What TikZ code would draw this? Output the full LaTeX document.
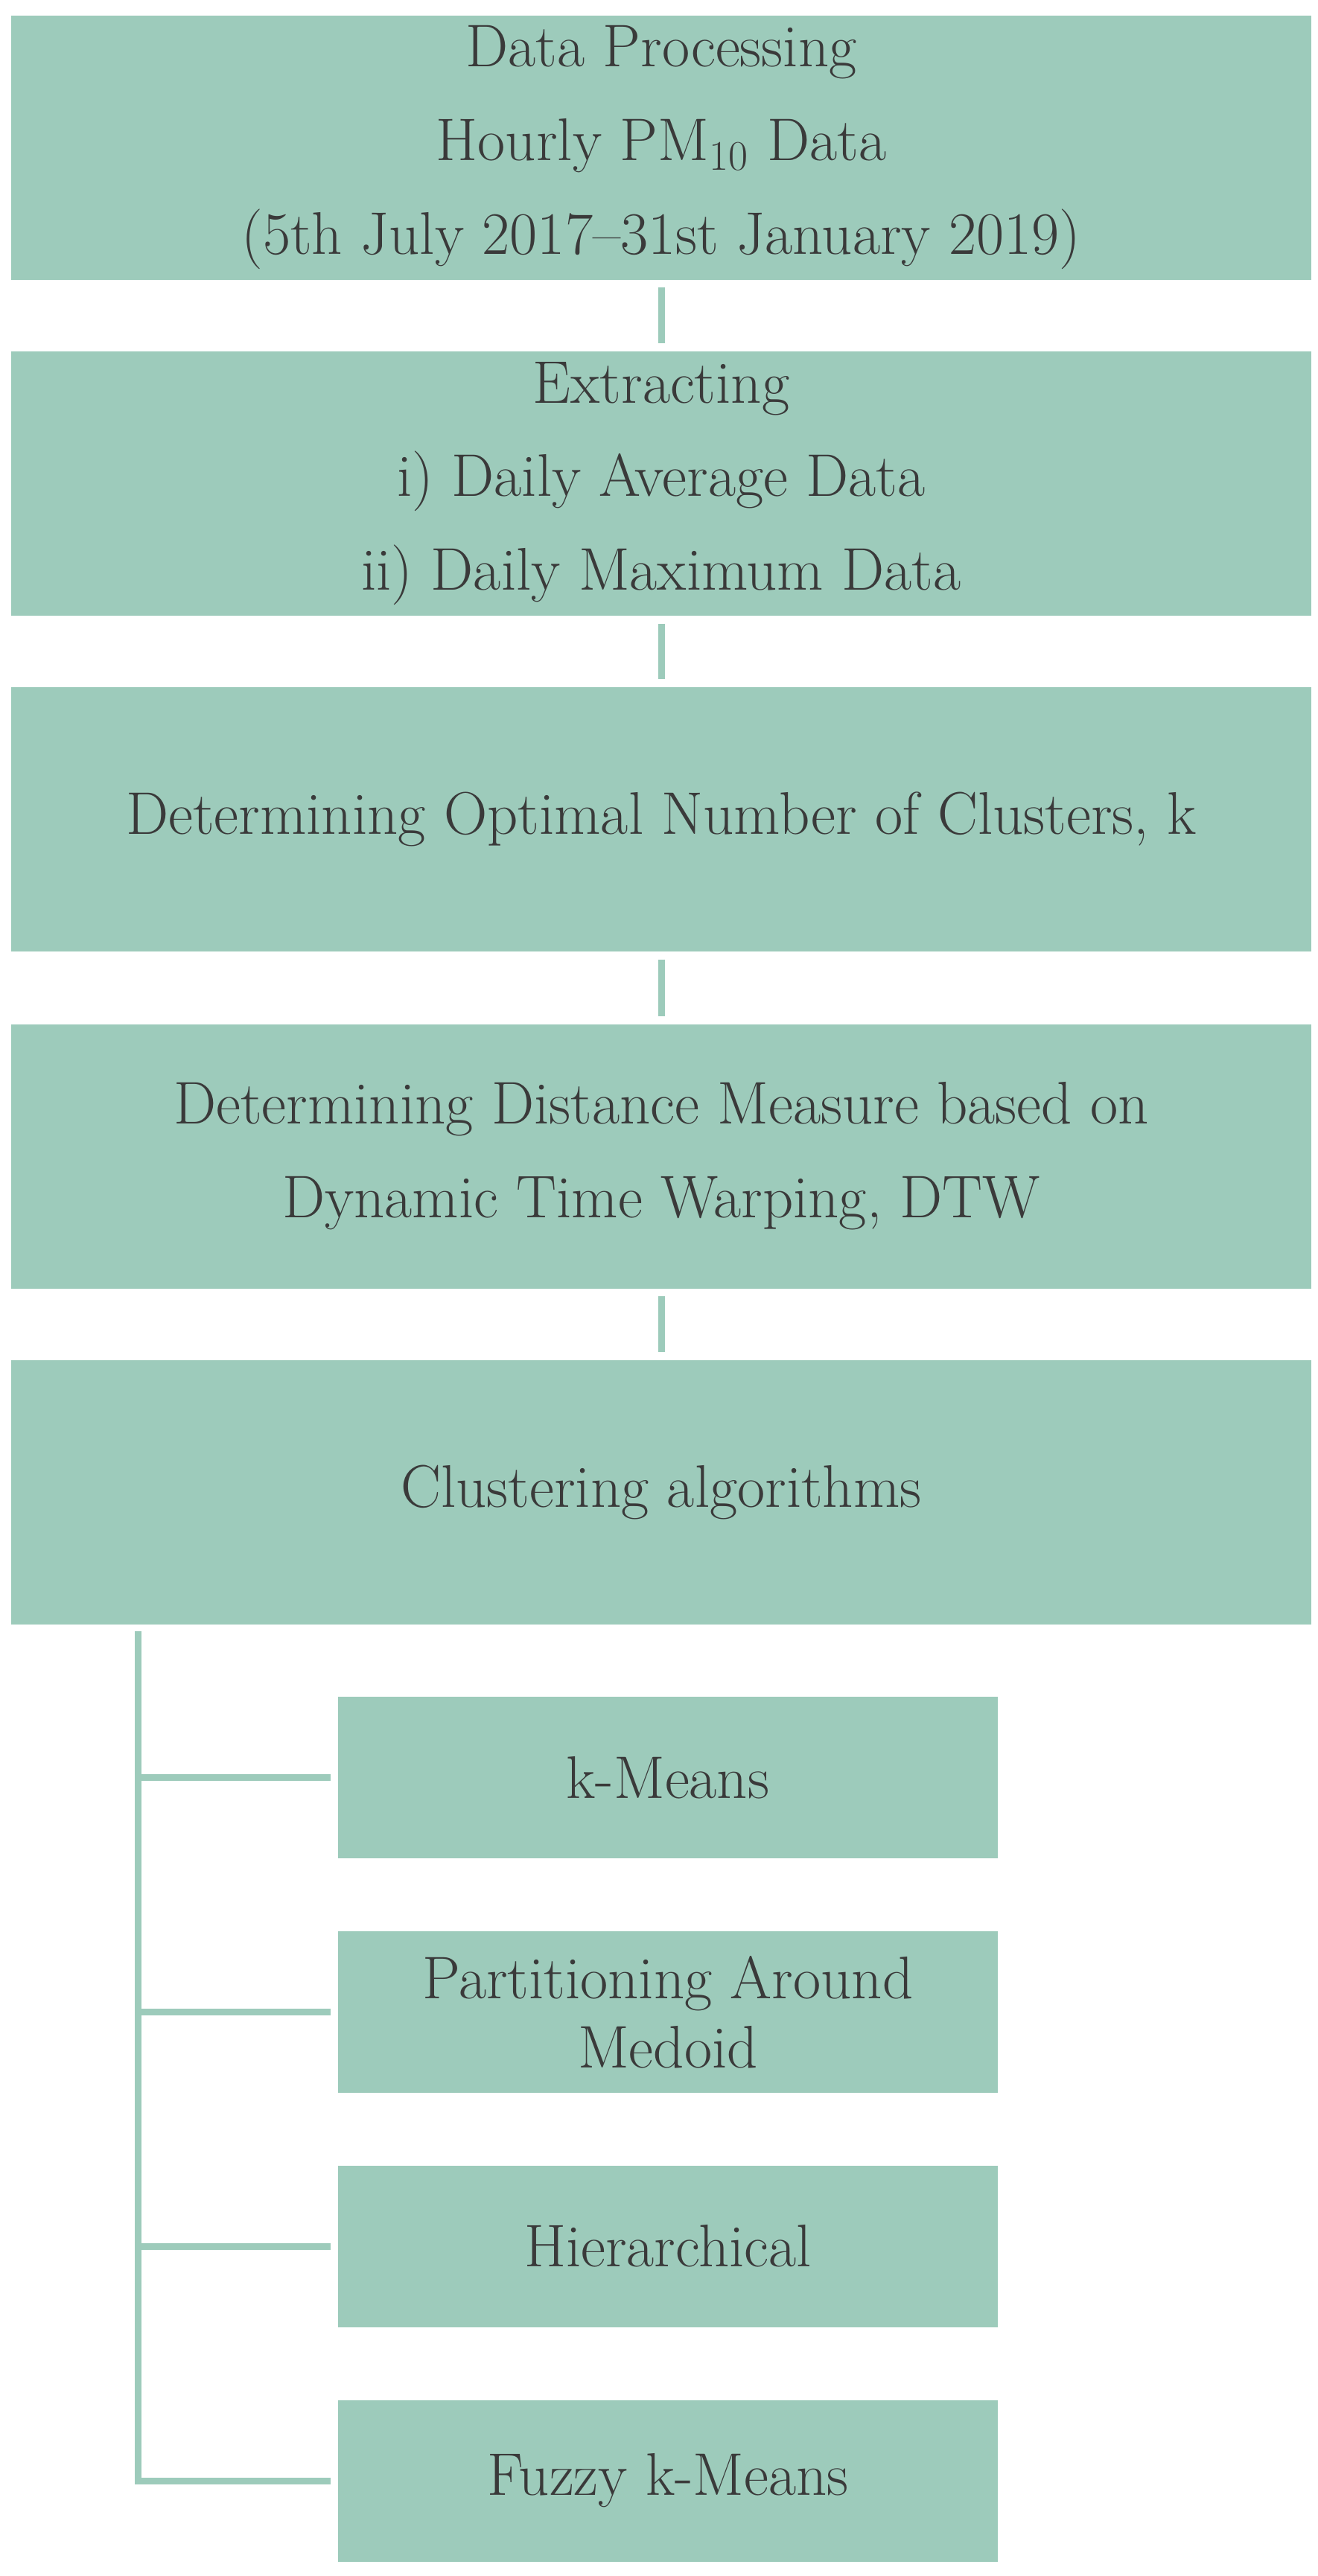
\documentclass[tikz,border=0pt]{standalone}
\usepackage{xcolor}
\usepackage{tikz}
\usetikzlibrary{positioning}
\definecolor{boxgreen}{RGB}{157,203,187}
\definecolor{boxtext}{RGB}{58,58,58}

\begin{document}
\begin{tikzpicture}
	\tikzstyle{stage}=[rectangle,fill=boxgreen,text=boxtext,minimum width=17.46cm,minimum height=3.55cm,inner sep=0pt,align=center,font=\fontsize{23}{35.8}\selectfont]
	\tikzstyle{method}=[stage,minimum width=8.86cm,minimum height=2.17cm,font=\fontsize{23}{26.5}\selectfont]
	\tikzstyle{link}=[draw=boxgreen,line width=0.09cm]
	\useasboundingbox (0,0) rectangle (17.70,-34.60);
	\node[stage](data) at (8.88,-1.98){Data Processing\\Hourly PM\textsubscript{10} Data\\(5th July 2017--31st January 2019)};
	\node[stage](extract) at (8.88,-6.495){Extracting\\i) Daily Average Data\\ii) Daily Maximum Data};
	\node[stage](optk) at (8.88,-11.005){Determining Optimal Number of Clusters, k};
	\node[stage](dtw) at (8.88,-15.53){Determining Distance Measure based on\\Dynamic Time Warping, DTW};
	\node[stage](clust) at (8.88,-20.04){Clustering algorithms};
	\node[method](kmeans) at (8.97,-23.875){k-Means};
	\node[method](pam) at (8.97,-27.025){Partitioning Around\\Medoid};
	\node[method](hier) at (8.97,-30.17){Hierarchical};
	\node[method](fuzzy) at (8.97,-33.32){Fuzzy k-Means};
	\coordinate (trunk) at (1.85,-21.91);
	\path[link,shorten <=0.1cm,shorten >=0.1cm]
		(data) edge (extract)
		(extract) edge (optk)
		(optk) edge (dtw)
		(dtw) edge (clust);
	\draw[link,shorten >=0.09cm] (trunk) |- (fuzzy);
	\path[link,shorten >=0.09cm]
		(trunk |- kmeans) edge (kmeans)
		(trunk |- pam) edge (pam)
		(trunk |- hier) edge (hier);
\end{tikzpicture}
\end{document}
